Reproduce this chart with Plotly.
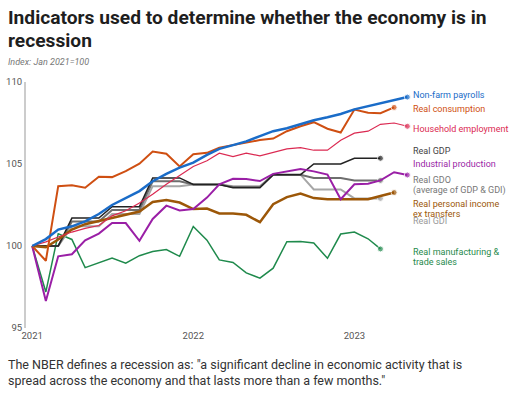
import plotly.graph_objects as go

months = ["2021-01-01", "2021-02-01", "2021-03-01", "2021-04-01", "2021-05-01", "2021-06-01",
          "2021-07-01", "2021-08-01", "2021-09-01", "2021-10-01", "2021-11-01", "2021-12-01",
          "2022-01-01", "2022-02-01", "2022-03-01", "2022-04-01", "2022-05-01", "2022-06-01",
          "2022-07-01", "2022-08-01", "2022-09-01", "2022-10-01", "2022-11-01", "2022-12-01",
          "2023-01-01", "2023-02-01", "2023-03-01", "2023-04-01", "2023-05-01"]

payrolls = [100, 100.42, 101.0, 101.2, 101.5, 101.95, 102.5, 102.95, 103.35, 103.95, 104.4, 104.78,
            105.08, 105.55, 105.92, 106.15, 106.38, 106.7, 107.0, 107.18, 107.43, 107.67, 107.85, 108.05,
            108.33, 108.52, 108.7, 108.9, 109.08]
consumption = [100, 99.1, 103.65, 103.7, 103.55, 104.22, 104.2, 104.56, 105.02, 105.76, 105.63, 104.85,
               105.6, 105.68, 106.0, 106.15, 106.32, 106.46, 106.55, 107.0, 107.3, 107.55, 107.15, 106.92,
               108.32, 108.12, 108.1, 108.45]
household = [100, 100.25, 100.55, 100.85, 101.07, 101.25, 101.84, 102.15, 102.62, 103.15, 103.76, 104.3,
             104.85, 105.2, 105.66, 105.45, 105.66, 105.5, 105.7, 105.92, 106.0, 105.84, 105.84, 106.45,
             106.88, 107.0, 107.42, 107.5, 107.3]
real_gdp = [100, 100, 100, 101.7, 101.7, 101.7, 102.4, 102.4, 102.4, 104.15, 104.15, 104.15,
            103.75, 103.75, 103.75, 103.55, 103.55, 103.55, 104.35, 104.35, 104.35, 105.0, 105.0, 105.0,
            105.35, 105.35, 105.35]
industrial = [100, 96.65, 99.37, 99.5, 100.34, 100.76, 101.4, 101.4, 100.32, 101.65, 102.46, 102.17,
              102.25, 102.95, 103.76, 104.1, 104.08, 103.96, 104.4, 104.55, 104.7, 104.55, 104.36, 102.85,
              103.76, 103.8, 104.0, 104.5, 104.33]
real_gdo = [100, 100, 100, 101.5, 101.5, 101.5, 102.2, 102.2, 102.2, 103.95, 103.95, 103.95,
            103.75, 103.75, 103.75, 103.6, 103.6, 103.6, 104.35, 104.35, 104.35, 104.15, 104.15, 104.15,
            104.0, 104.0, 104.0]
personal_income = [100, 99.92, 100.4, 101.0, 101.33, 101.53, 101.72, 101.94, 102.1, 102.68, 102.8, 102.65,
                   102.25, 102.28, 101.98, 101.98, 101.9, 101.45, 102.55, 102.98, 103.2, 102.92, 102.85, 102.85,
                   102.85, 102.85, 103.05, 103.26]
real_gdi = [100, 100, 100, 101.2, 101.2, 101.2, 101.95, 101.95, 101.95, 103.65, 103.65, 103.65,
            103.75, 103.75, 103.75, 103.65, 103.65, 103.65, 104.35, 104.35, 104.35, 103.45, 103.45, 103.45,
            102.9, 102.9, 102.9]
manufacturing = [100, 97.2, 100.75, 100.4, 98.68, 98.97, 99.27, 98.95, 99.41, 99.66, 99.78, 99.37,
                 101.19, 100.36, 99.15, 99.0, 98.36, 98.04, 98.65, 100.26, 100.28, 100.18, 99.25, 100.73,
                 100.85, 100.44, 99.82]

y_ticks = [95, 100, 105, 110]
x_ticks = ["2021-01-01", "2022-01-01", "2023-01-01"]
x_tick_labels = ["2021", "2022", "2023"]

# (name, values, colour, line width) in draw order bottom->top
series = [
    ("Real manufacturing & trade sales", manufacturing, "#1f8a4c", 1.5),
    ("Real GDI", real_gdi, "#a6a6a6", 2.0),
    ("Real GDO", real_gdo, "#6e6e6e", 2.0),
    ("Real GDP", real_gdp, "#222222", 1.5),
    ("Real personal income ex transfers", personal_income, "#9c5708", 2.5),
    ("Industrial production", industrial, "#9a1fa6", 2.0),
    ("Household employment", household, "#db2a52", 1.2),
    ("Real consumption", consumption, "#cf4f12", 2.0),
    ("Non-farm payrolls", payrolls, "#1a6cc8", 2.5),
]

fig = go.Figure()
for name, vals, col, w in series:
    n = len(vals)
    fig.add_trace(go.Scatter(
        x=months[:n], y=vals, mode="lines+markers", name=name,
        line=dict(color=col, width=w),
        marker=dict(size=[0] * (n - 1) + [6], color=col),
        cliponaxis=False, hoverinfo="skip",
    ))

# right-side labels: (text, value-position, colour)
labels = [
    ("Non-farm payrolls", 109.21, "#1a6cc8"),
    ("Real consumption", 108.34, "#cf4f12"),
    ("Household employment", 107.12, "#db2a52"),
    ("Real GDP", 105.81, "#444444"),
    ("Industrial production", 105.0, "#9a1fa6"),
    ("Real GDO", 104.02, "#777777"),
    ("(average of GDP & GDI)", 103.37, "#777777"),
    ("Real personal income", 102.59, "#9c5708"),
    ("ex transfers", 101.94, "#9c5708"),
    ("Real GDI", 101.52, "#999999"),
    ("Real manufacturing &", 99.65, "#1f8a4c"),
    ("trade sales", 99.0, "#1f8a4c"),
]

W, H = 525, 397
L, R, T, B = 26, 410, 82, 328


def px_x(x):
    return (x - L) / (R - L)


def px_y(y):
    return (B - y) / (B - T)


ann = []
for text, yv, col in labels:
    ann.append(dict(text=text, x=px_x(411), xref="paper", y=yv, yref="y",
                    xanchor="left", yanchor="middle", showarrow=False,
                    font=dict(family="Roboto", size=9.0, color=col)))

ann.append(dict(text="<b>Indicators used to determine whether the economy is in</b>",
                x=px_x(6), y=px_y(18), xref="paper", yref="paper", xanchor="left", yanchor="middle",
                showarrow=False, font=dict(family="Roboto", size=19.2, color="#1e1e1e")))
ann.append(dict(text="<b>recession</b>",
                x=px_x(6), y=px_y(40), xref="paper", yref="paper", xanchor="left", yanchor="middle",
                showarrow=False, font=dict(family="Roboto", size=19.2, color="#1e1e1e")))
ann.append(dict(text="<i>Index: Jan 2021=100</i>",
                x=px_x(6), y=px_y(62), xref="paper", yref="paper", xanchor="left", yanchor="middle",
                showarrow=False, font=dict(family="Roboto", size=9, color="#777777")))
ann.append(dict(text="The NBER defines a recession as: \"a significant decline in economic activity that is",
                x=px_x(6), y=px_y(364), xref="paper", yref="paper", xanchor="left", yanchor="middle",
                showarrow=False, font=dict(family="Roboto", size=12.5, color="#333333")))
ann.append(dict(text="spread across the economy and that lasts more than a few months.\"",
                x=px_x(6), y=px_y(380), xref="paper", yref="paper", xanchor="left", yanchor="middle",
                showarrow=False, font=dict(family="Roboto", size=12.5, color="#333333")))

fig.update_layout(
    width=W, height=H,
    margin=dict(l=L, r=W - R, t=T, b=H - B, pad=0, autoexpand=False),
    paper_bgcolor="white", plot_bgcolor="white",
    showlegend=False,
    hovermode=False,
    annotations=ann,
    font=dict(family="Roboto", color="#555555"),
    xaxis=dict(range=["2020-12-18", "2023-05-07"], tickvals=x_ticks, ticktext=x_tick_labels,
               showgrid=False, zeroline=False, showline=False, ticks="", automargin=False,
               tickfont=dict(size=9.5, color="#555555")),
    yaxis=dict(range=[95, 110], tickvals=y_ticks, showgrid=False, zeroline=False,
               showline=True, linecolor="#cccccc", linewidth=2, ticks="", automargin=False,
               tickfont=dict(size=9.5, color="#555555")),
)

fig.write_html("out.html", config={"displayModeBar": False},
               post_script="document.body.style.margin='0';")
